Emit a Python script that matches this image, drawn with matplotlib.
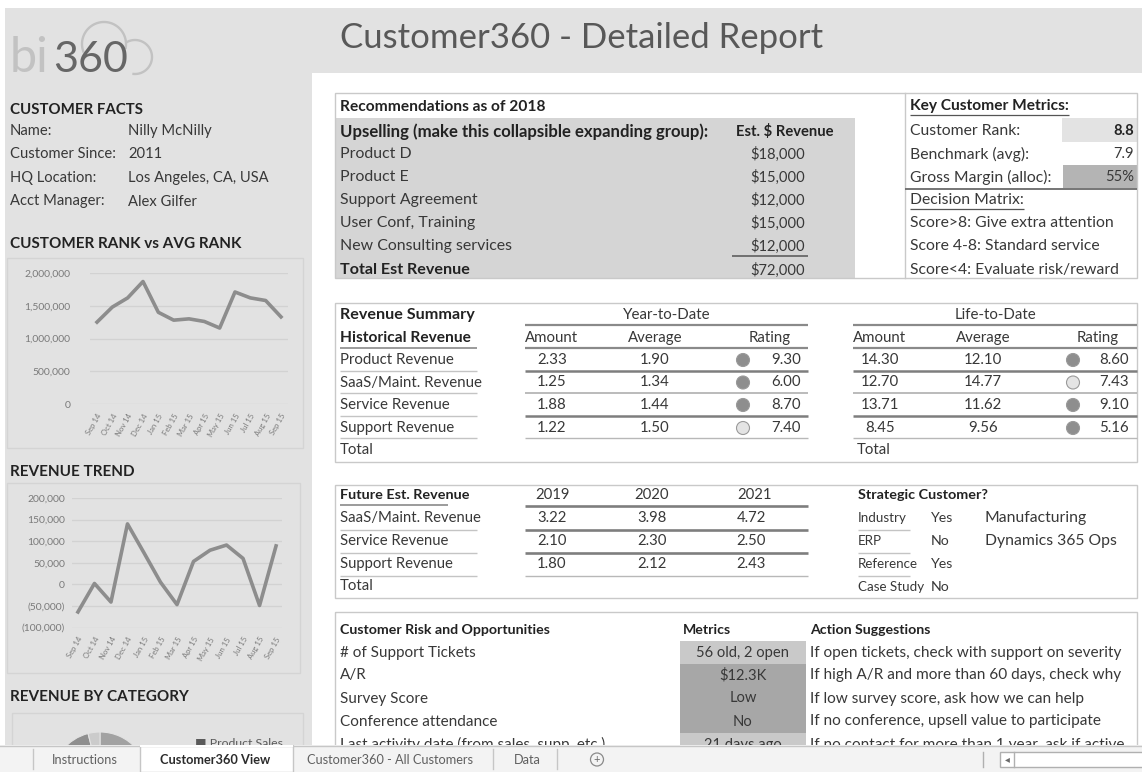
import matplotlib
matplotlib.use('Agg')
import matplotlib.pyplot as plt
from matplotlib.patches import Rectangle, Circle
from matplotlib.ticker import FuncFormatter, MultipleLocator
import numpy as np

W, H = 1142, 772
plt.rcParams['font.family'] = ['Lato', 'DejaVu Sans']

# ---------------- data ----------------
months = ['Sep 14', 'Oct 14', 'Nov 14', 'Dec 14', 'Jan 15', 'Feb 15', 'Mar 15',
          'Apr 15', 'May 15', 'Jun 15', 'Jul 15', 'Aug 15', 'Sep 15']
rank_values = [1250000, 1480000, 1620000, 1870000, 1400000, 1280000, 1300000,
               1260000, 1160000, 1710000, 1620000, 1580000, 1330000]
trend_values = [-64000, 2000, -41000, 140000, 73000, 5000, -47000,
                53000, 79000, 91000, 60000, -49000, 89000]
category_labels = ['Product Sales', 'Services', 'Support']
category_values = [55, 41, 4]

facts_labels = ['Name:', 'Customer Since:', 'HQ Location:', 'Acct Manager:']
facts_values = ['Nilly McNilly', '2011', 'Los Angeles, CA, USA', 'Alex Gilfer']

upsell_items = ['Product D', 'Product E', 'Support Agreement', 'User Conf, Training',
                'New Consulting services']
upsell_values = [18000, 15000, 12000, 15000, 12000]

metric_labels = ['Customer Rank:', 'Benchmark (avg):', 'Gross Margin (alloc):']
metric_values = ['8.8', '7.9', '55%']
decision_rules = ['Score>8: Give extra attention', 'Score 4-8: Standard service',
                  'Score<4: Evaluate risk/reward']

hist_rows = ['Product Revenue', 'SaaS/Maint. Revenue', 'Service Revenue', 'Support Revenue']
ytd_amount = [2.33, 1.25, 1.88, 1.22]
ytd_average = [1.90, 1.34, 1.44, 1.50]
ytd_rating = [9.30, 6.00, 8.70, 7.40]
ytd_dot = ['dark', 'dark', 'dark', 'light']
ltd_amount = [14.30, 12.70, 13.71, 8.45]
ltd_average = [12.10, 14.77, 11.62, 9.56]
ltd_rating = [8.60, 7.43, 9.10, 5.16]
ltd_dot = ['dark', 'light', 'dark', 'dark']

future_years = ['2019', '2020', '2021']
future_rows = ['SaaS/Maint. Revenue', 'Service Revenue', 'Support Revenue']
future_2019 = [3.22, 2.10, 1.80]
future_2020 = [3.98, 2.30, 2.12]
future_2021 = [4.72, 2.50, 2.43]

strategic_labels = ['Industry', 'ERP', 'Reference', 'Case Study']
strategic_flags = ['Yes', 'No', 'Yes', 'No']
strategic_notes = ['Manufacturing', 'Dynamics 365 Ops', '', '']

risk_items = ['# of Support Tickets', 'A/R', 'Survey Score', 'Conference attendance',
              'Last activity date (from sales, supp, etc.)']
risk_metrics = ['56 old, 2 open', '$12.3K', 'Low', 'No', '21 days ago']
risk_level = ['mid', 'high', 'high', 'high', 'mid']
risk_actions = ['If open tickets, check with support on severity',
                'If high A/R and more than 60 days, check why',
                'If low survey score, ask how we can help',
                'If no conference, upsell value to participate',
                'If no contact for more than 1 year, ask if active']

sheet_tabs = ['Instructions', 'Customer360 View', 'Customer360 - All Customers', 'Data']

# ---------------- figure ----------------
fig = plt.figure(figsize=(W / 100, H / 100), dpi=100)
fig.patch.set_facecolor('white')
ax = fig.add_axes([0, 0, 1, 1])
ax.set_xlim(0, W)
ax.set_ylim(H, 0)
ax.axis('off')

TXT = '#383838'
BOLD = '#222222'
PANEL = '#e2e2e2'


def px_axes(x0, y0, x1, y1):
    return fig.add_axes([x0 / W, 1 - y1 / H, (x1 - x0) / W, (y1 - y0) / H])


def T(x, y, s, bold=False, size=10.5, color=None, ha='left', **kw):
    return ax.text(x, y, s, ha=ha, va='center', fontsize=size,
                   fontweight='bold' if bold else 'normal',
                   color=color or (BOLD if bold else TXT), **kw)


def hline(y, x0, x1, color='#b5b5b5', lw=1.0):
    ax.plot([x0, x1], [y, y], color=color, lw=lw, solid_capstyle='butt')


def box(x0, y0, x1, y1, fc='none', ec='#c9c9c9', lw=1.0, z=1):
    ax.add_patch(Rectangle((x0, y0), x1 - x0, y1 - y0, facecolor=fc, edgecolor=ec, lw=lw, zorder=z))


def underlined(x, y, s, **kw):
    t = T(x, y, s, **kw)
    fig.canvas.draw()
    bb = t.get_window_extent(renderer=fig.canvas.get_renderer())
    hline(y + 8.5, x, bb.x1, color='#555555', lw=0.9)
    return t


# backgrounds
box(5, 8, W, 73, fc=PANEL, ec='none', z=0)
box(5, 8, 312, 760, fc=PANEL, ec='none', z=0)

# logo
ax.text(10, 72, 'bi', fontsize=35, color='#c2c2c2', va='baseline', ha='left')
ax.text(53, 72, '360', fontsize=31, color='#666666', va='baseline', ha='left')
t = np.linspace(np.radians(200), np.radians(-10), 60)
ax.plot(104 + 22 * np.cos(t), 44 - 22 * np.sin(t), color='#c2c2c2', lw=1.7)
t = np.linspace(np.radians(120), np.radians(-95), 60)
ax.plot(135 + 17 * np.cos(t), 57 - 17 * np.sin(t), color='#c2c2c2', lw=1.7)

# title
ax.text(340, 38, 'Customer360 - Detailed Report', fontsize=25, fontweight='normal',
        color='#585858', va='center', ha='left')

# customer facts
T(10, 110, 'CUSTOMER FACTS', bold=True, size=10.8)
for i, (lab, val) in enumerate(zip(facts_labels, facts_values)):
    y = 131 + 23.5 * i
    T(10, y, lab, size=10.6)
    T(128, y, val, size=10.6)

T(10, 244, 'CUSTOMER RANK vs AVG RANK', bold=True, size=11)
box(7, 258, 303, 448, ec='#d4d4d4')
T(10, 472, 'REVENUE TREND', bold=True, size=11)
box(7, 483, 300, 673, ec='#d4d4d4')
T(10, 697, 'REVENUE BY CATEGORY', bold=True, size=11)
box(12, 713, 303, 790, ec='#d4d4d4')

GRAY_LINE = '#8d8d8d'
TICK = '#7a7a7a'

# chart 1
n = len(months)
a1 = px_axes(90, 273, 288, 404)
a1.patch.set_alpha(0)
a1.plot(range(n), rank_values, color=GRAY_LINE, lw=2.6, solid_joinstyle='round')
a1.set_xlim(-0.457, n - 1 + 0.457)
a1.set_ylim(0, 2000000)
a1.yaxis.set_major_locator(MultipleLocator(500000))
a1.yaxis.set_major_formatter(FuncFormatter(lambda v, p: f'{v:,.0f}'))
a1.grid(axis='y', color='#d2d2d2', lw=0.9)
a1.set_axisbelow(True)
for s in a1.spines.values():
    s.set_visible(False)
a1.set_xticks(range(n))
a1.set_xticklabels(months, rotation=60, ha='right', rotation_mode='anchor', fontsize=5.5, color=TICK)
a1.tick_params(axis='both', length=0, colors=TICK)
a1.tick_params(axis='y', labelsize=7.5, pad=14)
a1.tick_params(axis='x', pad=6)

# chart 2
a2 = px_axes(72, 498, 282, 627.5)
a2.patch.set_alpha(0)
a2.plot(range(n), trend_values, color=GRAY_LINE, lw=2.6, solid_joinstyle='round')
a2.set_xlim(-0.36, n - 1 + 0.36)
a2.set_ylim(-100000, 200000)
a2.yaxis.set_major_locator(MultipleLocator(50000))
a2.yaxis.set_major_formatter(FuncFormatter(
    lambda v, p: f'({abs(v):,.0f})' if v < 0 else f'{v:,.0f}'))
a2.grid(axis='y', color='#d2d2d2', lw=0.9)
a2.set_axisbelow(True)
for s in a2.spines.values():
    s.set_visible(False)
a2.set_xticks(range(n))
a2.set_xticklabels(months, rotation=60, ha='right', rotation_mode='anchor', fontsize=5.5, color=TICK)
a2.tick_params(axis='both', length=0, colors=TICK)
a2.tick_params(axis='y', labelsize=7.5, pad=5)
a2.tick_params(axis='x', pad=6)

# pie (partially visible)
a3 = px_axes(52, 732, 148, 828)
a3.pie(category_values, colors=['#a2a2a2', '#8f8f8f', '#cbcbcb'], startangle=90,
       counterclock=False, wedgeprops=dict(edgecolor=PANEL, linewidth=0.8))
a3.set_xlim(-1, 1)
a3.set_ylim(-1, 1)
a3.axis('off')
T(195, 743, '\u25a0 ' + category_labels[0], size=8.8, color='#5a5a5a')

# ---------------- Recommendations ----------------
RS = 11.4
box(335, 93, 1137, 278)
box(335, 118, 855, 278, fc='#d5d5d5', ec='none', z=0)
ax.plot([905, 905], [93, 278], color='#c9c9c9', lw=1)
T(340, 107, 'Recommendations as of 2018', bold=True, size=11.2)
T(340, 132, 'Upselling (make this collapsible expanding group):', bold=True, size=12.1)
T(834, 132, 'Est. $ Revenue', bold=True, ha='right', size=10.6)
for i, (it, v) in enumerate(zip(upsell_items, upsell_values)):
    y = 154 + 23.1 * i
    T(340, y, it, size=RS)
    T(805, y, f'${v:,.0f}', ha='right', size=10.6)
hline(256, 732, 808, color='#555555', lw=1.1)
T(340, 270, 'Total Est Revenue', bold=True, size=11.6)
T(805, 270, f'${sum(upsell_values):,.0f}', ha='right', size=10.6)

KM = 11.3
underlined(910, 106, 'Key Customer Metrics:', bold=True, size=11.2)
box(1062, 118, 1137, 142, fc='#e3e3e3', ec='none', z=0)
box(1063, 165, 1137, 188, fc='#b4b4b4', ec='none', z=0)
for i, (lab, val) in enumerate(zip(metric_labels, metric_values)):
    y = 131 + 23 * i
    T(910, y, lab, size=KM)
    T(1134, y, val, ha='right', bold=(i == 0), size=10.6)
hline(188.5, 905, 1137, color='#6a6a6a', lw=1.3)
underlined(910, 200, 'Decision Matrix:', size=KM)
for i, r in enumerate(decision_rules):
    T(910, 223 + 23.5 * i, r, size=KM)

# ---------------- Revenue Summary ----------------
VS = 10.8
box(335, 303, 1137, 462)
T(340, 315, 'Revenue Summary', bold=True, size=11.6)
T(340, 338, 'Historical Revenue', bold=True, size=11.2)
hline(347.5, 340, 477, color='#8a8a8a', lw=1.2)
T(667, 315, 'Year-to-Date', ha='center', size=VS)
T(995, 315, 'Life-to-Date', ha='center', size=VS)
for (x0, x1) in [(525, 808), (853, 1137)]:
    hline(325, x0, x1, color='#8a8a8a', lw=1.6)
    hline(347.5, x0, x1, color='#8a8a8a', lw=1.6)
for x, s in [(552, 'Amount'), (655, 'Average'), (770, 'Rating'),
             (880, 'Amount'), (983, 'Average'), (1098, 'Rating')]:
    T(x, 338, s, ha='center', size=VS)

dot_col = {'dark': '#8e8e8e', 'light': '#e4e4e4'}
row_y = [360, 382.5, 405, 428]
sep_y = [370.5, 392.5, 415.5, 437.5]
sep_style = [('#7e7e7e', 1.8), ('#a8a8a8', 1.1), ('#7e7e7e', 1.8), ('#b8b8b8', 1.0)]
for i, lab in enumerate(hist_rows):
    y = row_y[i]
    T(340, y, lab, size=VS)
    T(552, y, f'{ytd_amount[i]:.2f}', ha='center', size=VS)
    T(655, y, f'{ytd_average[i]:.2f}', ha='center', size=VS)
    ax.add_patch(Circle((743, y), 6.5, facecolor=dot_col[ytd_dot[i]], edgecolor='#9a9a9a', lw=0.8, zorder=3))
    T(801, y, f'{ytd_rating[i]:.2f}', ha='right', size=VS)
    T(880, y, f'{ltd_amount[i]:.2f}', ha='center', size=VS)
    T(983, y, f'{ltd_average[i]:.2f}', ha='center', size=VS)
    ax.add_patch(Circle((1073, y), 6.5, facecolor=dot_col[ltd_dot[i]], edgecolor='#9a9a9a', lw=0.8, zorder=3))
    T(1129, y, f'{ltd_rating[i]:.2f}', ha='right', size=VS)
    c, lw = sep_style[i]
    hline(sep_y[i], 525, 808, color=c, lw=lw)
    hline(sep_y[i], 853, 1137, color=c, lw=lw)
    hline(sep_y[i], 340, 477, color='#c4c4c4', lw=1.0)
T(340, 450, 'Total', size=VS)
T(857, 450, 'Total', size=VS)

# ---------------- Future Est. Revenue ----------------
FSF = 10.7
box(335, 485, 1137, 598)
T(340, 495, 'Future Est. Revenue', bold=True, size=10.4)
hline(505, 340, 448, color='#8a8a8a', lw=1.2)
for x, s in [(552, future_years[0]), (652, future_years[1]), (755, future_years[2])]:
    T(x, 495, s, ha='center', size=FSF)
hline(505.5, 525, 808, color='#7e7e7e', lw=1.9)
fy = [518, 541, 564]
fsep = [529.5, 552.5, 575.5]
fstyle = [('#7e7e7e', 1.9), ('#7e7e7e', 1.9), ('#b8b8b8', 1.0)]
for i, lab in enumerate(future_rows):
    y = fy[i]
    T(340, y, lab, size=FSF)
    T(552, y, f'{future_2019[i]:.2f}', ha='center', size=FSF)
    T(652, y, f'{future_2020[i]:.2f}', ha='center', size=FSF)
    T(766, y, f'{future_2021[i]:.2f}', ha='right', size=FSF)
    c, lw = fstyle[i]
    hline(fsep[i], 525, 808, color=c, lw=lw)
    hline(fsep[i], 340, 477, color='#c4c4c4', lw=1.0)
T(340, 586, 'Total', size=FSF)

T(858, 495, 'Strategic Customer?', bold=True, size=10.4)
for i, lab in enumerate(strategic_labels):
    y = 518 + 23 * i
    T(858, y, lab, size=9.6)
    T(931, y, strategic_flags[i], size=10.2)
    if strategic_notes[i]:
        T(985, y, strategic_notes[i], size=11.3)
    if i < 3:
        hline(y + 11.5, 858, 910, color='#c4c4c4', lw=1.0)

# ---------------- Customer Risk ----------------
KS = 11.0
box(335, 612, 1137, 800)
T(340, 630, 'Customer Risk and Opportunities', bold=True, size=10.2)
T(683, 630, 'Metrics', bold=True, size=10.2)
T(810, 630, 'Action Suggestions', bold=True, size=10.2)
lvl_col = {'mid': '#c9c9c9', 'high': '#a7a7a7'}
for i, it in enumerate(risk_items):
    y = 652.5 + 23 * i
    box(680, y - 11.5, 806, y + 11.5, fc=lvl_col[risk_level[i]], ec='none', z=0)
    T(340, y, it, size=KS)
    T(743, y, risk_metrics[i], ha='center', size=10.6)
    T(810, y, risk_actions[i], size=11.1)

# ---------------- sheet tabs (overlay) ----------------
tb = fig.add_axes([0, 0, 1, 27 / H])
tb.set_xlim(0, W)
tb.set_ylim(772, 745)
tb.axis('off')
tb.add_patch(Rectangle((0, 745), W, 27, facecolor='#f3f3f3', edgecolor='none'))
tb.plot([0, W], [745.5, 745.5], color='#c6c6c6', lw=1)
tb.add_patch(Rectangle((140, 745), 153, 27, facecolor='white', edgecolor='#c6c6c6', lw=1))
tb.plot([141, 292], [745.5, 745.5], color='white', lw=1.5)
for x in [33, 493, 557]:
    tb.plot([x, x], [749, 769], color='#c6c6c6', lw=1)
tab_x = [85, 215, 390, 527]
for i, (x, s) in enumerate(zip(tab_x, sheet_tabs)):
    tb.text(x, 759.5, s, ha='center', va='center', fontsize=9.2,
            fontweight='bold' if i == 1 else 'normal',
            color='#2b2b2b' if i == 1 else '#606060')
tb.add_patch(Circle((597, 759.5), 6.5, facecolor='none', edgecolor='#8a8a8a', lw=0.9))
tb.text(597, 759.5, '+', ha='center', va='center', fontsize=8, color='#6a6a6a')
tb.plot([983, 983], [752, 767], color='#b0b0b0', lw=1)
tb.add_patch(Rectangle((1000, 752), 150, 15, facecolor='white', edgecolor='#b0b0b0', lw=1))
tb.plot([1014, 1014], [752, 767], color='#b0b0b0', lw=1)
tb.text(1007, 759.5, '\u25c2', ha='center', va='center', fontsize=7, color='#6a6a6a')

fig.savefig('out.png', dpi=100, facecolor='white')
